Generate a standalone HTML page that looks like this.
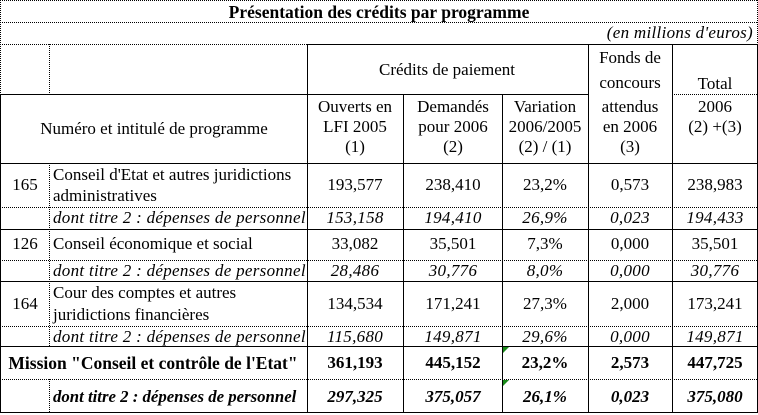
<!DOCTYPE html>
<html><head><meta charset="utf-8">
<style>
body{margin:0;background:#fff;}
#t{position:relative;width:758px;height:415px;overflow:hidden;font-family:"Liberation Serif",serif;font-size:17px;color:#000;}
.x{position:absolute;white-space:nowrap;line-height:18px;transform:translate(-50%,-50%);}
.l{position:absolute;white-space:nowrap;line-height:18px;transform:translateY(-50%);}
.i{font-style:italic;letter-spacing:0.3px;}
.b{font-weight:bold;}
.b.i{letter-spacing:0;}
svg{position:absolute;left:0;top:0;}
</style></head><body>
<div id="t">
<svg width="758" height="415">
<g stroke="#000" stroke-width="1" shape-rendering="crispEdges" fill="none">
<g stroke-dasharray="1,1">
<line x1="0" y1="0.5" x2="758" y2="0.5"/>
<line x1="0" y1="22.5" x2="758" y2="22.5"/>
<line x1="0" y1="44.5" x2="307" y2="44.5"/>
<line x1="0.5" y1="0" x2="0.5" y2="95"/>
<line x1="757.5" y1="0" x2="757.5" y2="44"/>
<line x1="49.5" y1="44" x2="49.5" y2="95"/>
<line x1="672" y1="94.5" x2="757" y2="94.5"/>
<line x1="0" y1="207.5" x2="757" y2="207.5"/>
<line x1="0" y1="260.5" x2="757" y2="260.5"/>
<line x1="0" y1="326.5" x2="757" y2="326.5"/>
<line x1="0" y1="379.5" x2="757" y2="379.5"/>
<line x1="49.5" y1="163" x2="49.5" y2="346"/>
<line x1="49.5" y1="379" x2="49.5" y2="413"/>
</g>
<line x1="307" y1="44.5" x2="758" y2="44.5"/>
<line x1="0" y1="94.5" x2="588" y2="94.5"/>
<line x1="0" y1="163.5" x2="758" y2="163.5"/>
<line x1="0" y1="229.5" x2="758" y2="229.5"/>
<line x1="0" y1="281.5" x2="758" y2="281.5"/>
<line x1="0" y1="346.5" x2="758" y2="346.5"/>
<line x1="0" y1="412.5" x2="758" y2="412.5"/>
<line x1="0.5" y1="95" x2="0.5" y2="413"/>
<line x1="757.5" y1="44" x2="757.5" y2="413"/>
<line x1="307.5" y1="44" x2="307.5" y2="413"/>
<line x1="403.5" y1="94" x2="403.5" y2="413"/>
<line x1="502.5" y1="94" x2="502.5" y2="413"/>
<line x1="588.5" y1="44" x2="588.5" y2="413"/>
<line x1="672.5" y1="44" x2="672.5" y2="413"/>
</g>
<polygon points="503,347 509,347 503,353" fill="#1a8a1a"/>
<polygon points="503,380 509,380 503,386" fill="#1a8a1a"/>
</svg>

<div class="x b" style="left:379px;top:12px;font-size:17.5px">Présentation des crédits par programme</div>
<div class="l i" style="right:5px;top:33px">(en millions d'euros)</div>

<div class="x" style="left:447px;top:70px">Crédits de paiement</div>
<div>
<div class="x" style="left:630px;top:58px">Fonds de</div>
<div class="x" style="left:630px;top:83px">concours</div>
<div class="x" style="left:630px;top:107px">attendus</div>
<div class="x" style="left:630px;top:127px">en 2006</div>
<div class="x" style="left:630px;top:147px">(3)</div>
</div>
<div>
<div class="x" style="left:715px;top:84px">Total</div>
<div class="x" style="left:715px;top:107px">2006</div>
<div class="x" style="left:715px;top:127px">(2) +(3)</div>
</div>
<div class="x" style="left:154px;top:129px">Numéro et intitulé de programme</div>
<div>
<div class="x" style="left:355px;top:107px">Ouverts en</div>
<div class="x" style="left:355px;top:127px">LFI 2005</div>
<div class="x" style="left:355px;top:147px">(1)</div>
</div>
<div>
<div class="x" style="left:453px;top:107px">Demandés</div>
<div class="x" style="left:453px;top:127px">pour 2006</div>
<div class="x" style="left:453px;top:147px">(2)</div>
</div>
<div>
<div class="x" style="left:545px;top:107px">Variation</div>
<div class="x" style="left:545px;top:127px">2006/2005</div>
<div class="x" style="left:545px;top:147px">(2) / (1)</div>
</div>

<div>
<div class="x" style="left:25px;top:185px">165</div>
<div class="l" style="left:53px;top:175px">Conseil d'Etat et autres juridictions</div>
<div class="l" style="left:53px;top:196px">administratives</div>
<div class="x" style="left:355px;top:185px">193,577</div>
<div class="x" style="left:453px;top:185px">238,410</div>
<div class="x" style="left:545px;top:185px">23,2%</div>
<div class="x" style="left:630px;top:185px">0,573</div>
<div class="x" style="left:715px;top:185px">238,983</div>
</div>
<div class="i">
<div class="l" style="left:53px;top:218px">dont titre 2 : dépenses de personnel</div>
<div class="x" style="left:355px;top:218px">153,158</div>
<div class="x" style="left:453px;top:218px">194,410</div>
<div class="x" style="left:545px;top:218px">26,9%</div>
<div class="x" style="left:630px;top:218px">0,023</div>
<div class="x" style="left:715px;top:218px">194,433</div>
</div>
<div>
<div class="x" style="left:25px;top:244px">126</div>
<div class="l" style="left:53px;top:244px">Conseil économique et social</div>
<div class="x" style="left:355px;top:244px">33,082</div>
<div class="x" style="left:453px;top:244px">35,501</div>
<div class="x" style="left:545px;top:244px">7,3%</div>
<div class="x" style="left:630px;top:244px">0,000</div>
<div class="x" style="left:715px;top:244px">35,501</div>
</div>
<div class="i">
<div class="l" style="left:53px;top:271px">dont titre 2 : dépenses de personnel</div>
<div class="x" style="left:355px;top:271px">28,486</div>
<div class="x" style="left:453px;top:271px">30,776</div>
<div class="x" style="left:545px;top:271px">8,0%</div>
<div class="x" style="left:630px;top:271px">0,000</div>
<div class="x" style="left:715px;top:271px">30,776</div>
</div>
<div>
<div class="x" style="left:25px;top:304px">164</div>
<div class="l" style="left:53px;top:293px">Cour des comptes et autres</div>
<div class="l" style="left:53px;top:315px">juridictions financières</div>
<div class="x" style="left:355px;top:304px">134,534</div>
<div class="x" style="left:453px;top:304px">171,241</div>
<div class="x" style="left:545px;top:304px">27,3%</div>
<div class="x" style="left:630px;top:304px">2,000</div>
<div class="x" style="left:715px;top:304px">173,241</div>
</div>
<div class="i">
<div class="l" style="left:53px;top:337px">dont titre 2 : dépenses de personnel</div>
<div class="x" style="left:355px;top:337px">115,680</div>
<div class="x" style="left:453px;top:337px">149,871</div>
<div class="x" style="left:545px;top:337px">29,6%</div>
<div class="x" style="left:630px;top:337px">0,000</div>
<div class="x" style="left:715px;top:337px">149,871</div>
</div>
<div class="b">
<div class="x" style="left:153px;top:363px;font-size:17.5px">Mission "Conseil et contrôle de l'Etat"</div>
<div class="x" style="left:355px;top:363px">361,193</div>
<div class="x" style="left:453px;top:363px">445,152</div>
<div class="x" style="left:545px;top:363px">23,2%</div>
<div class="x" style="left:630px;top:363px">2,573</div>
<div class="x" style="left:715px;top:363px">447,725</div>
</div>
<div class="b i">
<div class="l" style="left:53px;top:397px;font-size:16.8px">dont titre 2 : dépenses de personnel</div>
<div class="x" style="left:355px;top:397px">297,325</div>
<div class="x" style="left:453px;top:397px">375,057</div>
<div class="x" style="left:545px;top:397px">26,1%</div>
<div class="x" style="left:630px;top:397px">0,023</div>
<div class="x" style="left:715px;top:397px">375,080</div>
</div>
</div>
</body></html>
